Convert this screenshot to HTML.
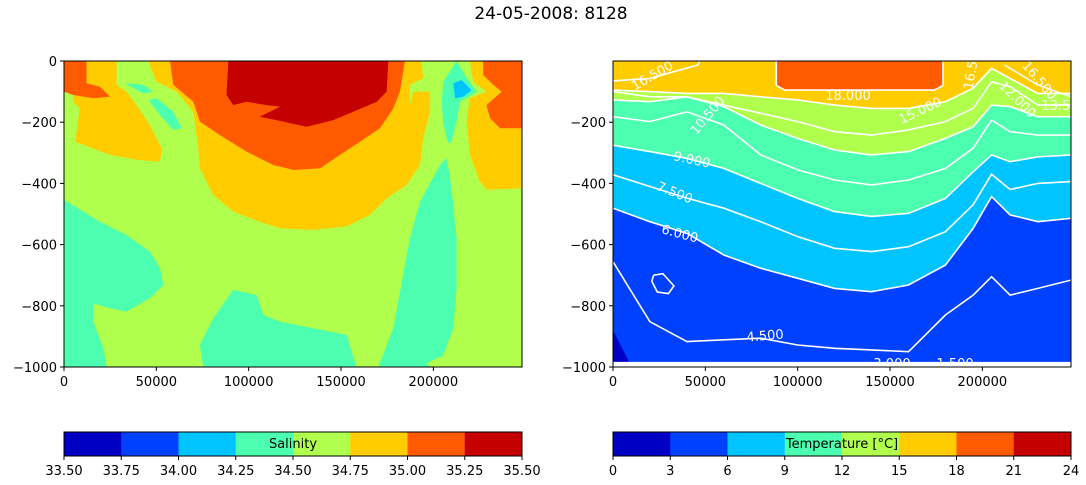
<!DOCTYPE html>
<html><head><meta charset="utf-8"><style>
html,body{margin:0;padding:0;background:#fff;}
svg{display:block;font-family:"DejaVu Sans","Liberation Sans",sans-serif;}
</style></head><body>
<svg id="fig" width="1086" height="485" viewBox="0 0 1086 485" xmlns="http://www.w3.org/2000/svg">
<text x="551" y="19" font-size="17" text-anchor="middle">24-05-2008: 8128</text>
<defs>
<clipPath id="clipL"><rect x="64" y="61" width="458" height="306"/></clipPath>
<clipPath id="clipR"><rect x="613" y="61" width="458" height="306"/></clipPath>
</defs>
<g id="left"></g>
<g id="right"></g>
<g id="cbars"></g>
</svg>
<script>
const NS="http://www.w3.org/2000/svg";
const COLORS=['#0000c4','#0040ff','#00c4ff','#4cffb0','#b0ff4c','#ffcc00','#ff5a00','#c40000'];
const xTicks=[0,50000,100000,150000,200000];
const yTicksL=[0,-200,-400,-600,-800,-1000];
const yTicksR=[-200,-400,-600,-800,-1000];
const salLevels=['33.50','33.75','34.00','34.25','34.50','34.75','35.00','35.25','35.50'];
const tempLevels=['0','3','6','9','12','15','18','21','24'];
// salinity regions: [x(km), depth(m)] pairs, colour index
const salYellowMain=[[45.6,0],[50.1,68],[61,100],[70,166],[72.7,285],[73.6,351],[80.8,438],[91.7,492],[106,525],[117,547],[135,552],[153,541],[165.7,503],[174.7,449],[185.5,405],[192.7,340],[194.5,253],[198.2,166],[198.2,100],[189.1,100],[187.3,144],[187.3,78],[194.5,57],[193.6,0]];
const salYellowLeft=[[5,133],[8.6,155],[6,264],[24.9,307],[39.3,323],[52,329],[52.9,285],[46.5,209],[39.3,144],[33.9,100],[28.5,78],[28.5,0],[12.2,0],[12.2,73],[19.5,84],[24.9,117],[15.9,122],[5,111]];
const salYellowRight=[[219.8,0],[221.6,68],[228.8,100],[219.8,122],[218,198],[219.8,307],[225.2,394],[228.8,421],[248,416],[248,0]];
const salOrangeMain=[[57.4,0],[59.2,78],[70,133],[73.6,198],[84.4,242],[98.9,296],[113.3,340],[124.2,356],[138.6,351],[149.4,307],[160.3,264],[171.1,220],[178.3,155],[181.9,100],[184.6,0]];
const salOrangeLeft=[[0,0],[12.2,0],[12.2,73],[19.5,84],[24.9,117],[15.9,122],[5,111],[0,100]];
const salOrangeRight=[[227,0],[227,46],[232.5,78],[237,100],[228.8,144],[230.7,187],[236.1,220],[248,220],[248,0]];
const salRed=[[89,0],[88,111],[91.7,144],[98.9,133],[109.7,144],[117,149],[106,182],[115.1,193],[131.4,215],[145.8,193],[156.6,166],[169.3,133],[174.7,100],[175.6,0]];
const salAquaBL=[[0,454],[19.5,525],[33.9,569],[46.5,623],[52,677],[53.8,732],[46.5,775],[33.9,819],[24.9,808],[15.9,792],[15.9,852],[21.3,939],[23.1,1000],[0,1000]];
const salAquaBM=[[75.4,1000],[73.6,928],[80.8,841],[91.7,748],[104.3,765],[107.9,830],[117,852],[153,895],[158.4,1000]];
const salAquaR=[[170.2,1000],[178.3,873],[187.3,579],[192.7,460],[203.6,340],[207.2,318],[209.9,416],[212.6,579],[212.6,743],[210.8,873],[205.4,961],[196.4,988],[198.2,1000]];
const salAquaTop=[[205.4,68],[212.6,0],[217.1,46],[223.4,100],[214.4,133],[212.6,198],[209.9,264],[208.1,269],[205.4,209],[204.5,133]];
const salAquaS1=[[46.5,127],[50.1,122],[59.2,166],[63.7,220],[59.2,225],[52,176],[46.5,133]];
const salAquaS2=[[33,73],[42.9,78],[48.3,100],[42.9,106]];
const salBlue=[[210.8,73],[215.3,62],[220.7,95],[216.2,117],[211.7,122]];
// temperature section: shared x positions (km) and contour depths (m)
const tempX=[0,20,40,60,80,100,120,140,160,180,195,205,215,230,248];
const t15=[95,100,106,106,117,127,144,155,155,133,89,24,57,106,106];
const t13_5=[100,117,117,144,171,198,231,242,225,198,155,68,84,144,144];
const t12=[127,133,117,149,209,253,291,307,296,253,215,144,149,182,182];
const t10_5=[182,198,166,209,307,356,389,405,389,351,285,193,231,242,242];
const t9=[275,296,318,351,400,449,492,508,498,449,362,307,329,313,307];
const t7_5=[372,410,448,481,525,574,612,623,607,558,470,370,420,400,394];
const t6=[481,525,563,634,677,710,743,754,732,667,547,443,503,525,514];
const t4_5=[656,852,917,911,906,928,939,944,950,830,765,705,765,743,716];
const t16_5L=[[0,65],[20,57],[33,35],[46,13],[47,0]];
const t16_5R=[[212,13],[230,78],[248,117]];
const t18=[[88.4,0],[88.4,80],[93,95],[174,95],[178.7,80],[178.7,0]];
const tLoop=[[22,700],[27,695],[33,735],[30,760],[24,755],[21,720]];
const tDark=[[0,880],[10,1000],[0,1000]];

function mk(tag,attrs,parent){const e=document.createElementNS(NS,tag);for(const k in attrs)e.setAttribute(k,attrs[k]);parent.appendChild(e);return e;}
const XMAX=248000;
function axX(x0){return v=>x0+v/XMAX*458;}
function axY(d){return 61+d/1000*306;}
function poly(pts,sx,parent,fill,name){
  const p=mk('polygon',{points:pts.map(q=>sx(q[0]*1000).toFixed(1)+','+axY(q[1]).toFixed(1)).join(' '),fill:fill},parent);
  
  
  return p;
}
function axes(g,x0,sx,yt,name){
  mk('rect',{x:x0,y:61,width:458,height:306,fill:'none',stroke:'#000','stroke-width':1},g);
  xTicks.forEach(v=>{const x=sx(v);mk('line',{x1:x,y1:367,x2:x,y2:371,stroke:'#000'},g);
    const t=mk('text',{x:x,y:386,'font-size':13,'text-anchor':'middle'},g);t.textContent=String(v);
    
    });
  yt.forEach(v=>{const y=axY(-v);mk('line',{x1:x0-4,y1:y,x2:x0,y2:y,stroke:'#000'},g);
    const t=mk('text',{x:x0-7,y:y+5,'font-size':13,'text-anchor':'end'},g);t.textContent=v<0?'\u2212'+(-v):String(v);
    
    });
}
// LEFT
(function(){
  const g=document.getElementById('left');const sx=axX(64);
  const c=mk('g',{'clip-path':'url(#clipL)'},g);
  mk('rect',{x:64,y:61,width:458,height:306,fill:COLORS[4]},c);
  poly(salYellowMain,sx,c,COLORS[5],'salinity-region-34.75');
  poly(salYellowLeft,sx,c,COLORS[5],'salinity-region-34.75');
  poly(salYellowRight,sx,c,COLORS[5],'salinity-region-34.75');
  poly(salOrangeMain,sx,c,COLORS[6],'salinity-region-35.00');
  poly(salOrangeLeft,sx,c,COLORS[6],'salinity-region-35.00');
  poly(salOrangeRight,sx,c,COLORS[6],'salinity-region-35.00');
  poly(salRed,sx,c,COLORS[7],'salinity-region-35.25');
  [salAquaBL,salAquaBM,salAquaR,salAquaTop,salAquaS1,salAquaS2].forEach(a=>poly(a,sx,c,COLORS[3],'salinity-region-34.25'));
  poly(salBlue,sx,c,COLORS[2],'salinity-region-34.00');
  axes(g,64,sx,yTicksL,'salinity');
})();
// RIGHT
(function(){
  const g=document.getElementById('right');const sx=axX(613);
  const c=mk('g',{'clip-path':'url(#clipR)'},g);
  mk('rect',{x:613,y:61,width:458,height:306,fill:COLORS[5]},c);
  const band=(arr,col,name)=>{const pts=tempX.map((k,i)=>[k,arr[i]]);pts.push([248,1000],[0,1000]);poly(pts,sx,c,col,name);};
  band(t15,COLORS[4],'temperature-band-12-15');
  band(t12,COLORS[3],'temperature-band-9-12');
  band(t9,COLORS[2],'temperature-band-6-9');
  band(t6,COLORS[1],'temperature-band-3-6');
  poly(tDark,sx,c,COLORS[0],'temperature-band-0-3');
  poly(t18,sx,c,COLORS[6],'temperature-band-18-21');
  mk('rect',{x:613,y:axY(988),width:458,height:10,fill:'#fff'},c);
  const line=(pts,name)=>{const l=mk('polyline',{points:pts.map(q=>sx(q[0]*1000).toFixed(1)+','+axY(q[1]).toFixed(1)).join(' '),fill:'none',stroke:'#fff','stroke-width':1.6},c);
    
    };
  [[t15,'15'],[t13_5,'13.5'],[t12,'12'],[t10_5,'10.5'],[t9,'9'],[t7_5,'7.5'],[t6,'6'],[t4_5,'4.5']].forEach(a=>line(tempX.map((k,i)=>[k,a[0][i]]),'contour-line-'+a[1]));
  line(t16_5L,'contour-line-16.5');line(t16_5R,'contour-line-16.5');line(t18,'contour-line-18');
  line(tLoop.concat([tLoop[0]]),'contour-line-4.5-loop');
  line([[0,986],[248,986]],'contour-line-1.5');
  const labs=[['16.500',652,80,-30],['18.000',848,100,0],['10.500',707,120,-50],['15.000',920,115,-25],['9.000',692,164,12],['7.500',675,197,22],['6.000',680,238,15],['4.500',765,340,-5],['3.000',892,368,0],['1.500',955,368,0],['0.000',725,372,0],['12.000',1018,104,45],['16.500',1040,85,50],['13.50',1060,110,0],['16.5',970,80,-80]];
  labs.forEach(l=>{const t=mk('text',{x:l[1],y:l[2],'font-size':13,fill:'#fff','text-anchor':'middle',transform:'rotate('+l[3]+' '+l[1]+' '+(l[2]-5)+')'},c);t.textContent=l[0];
    
    });
  axes(g,613,sx,yTicksR,'temperature');
})();
// COLORBARS
function cbar(x0,levels,label,name){
  const g=document.getElementById('cbars');const w=458/8;
  COLORS.forEach((col,i)=>{const r=mk('rect',{x:x0+i*w,y:432,width:w+0.5,height:24,fill:col},g);
    
    });
  mk('rect',{x:x0,y:432,width:458,height:24,fill:'none',stroke:'#000'},g);
  levels.forEach((v,i)=>{const x=x0+i*w;mk('line',{x1:x,y1:456,x2:x,y2:460,stroke:'#000'},g);
    const t=mk('text',{x:x,y:475,'font-size':13,'text-anchor':'middle'},g);t.textContent=v;
    
    });
  const t=mk('text',{x:x0+229,y:448,'font-size':13,'text-anchor':'middle'},g);t.textContent=label;
  
  
}
cbar(64,salLevels,'Salinity','salinity-colorbar');
cbar(613,tempLevels,'Temperature [\u00b0C]','temperature-colorbar');
</script>
</body></html>
